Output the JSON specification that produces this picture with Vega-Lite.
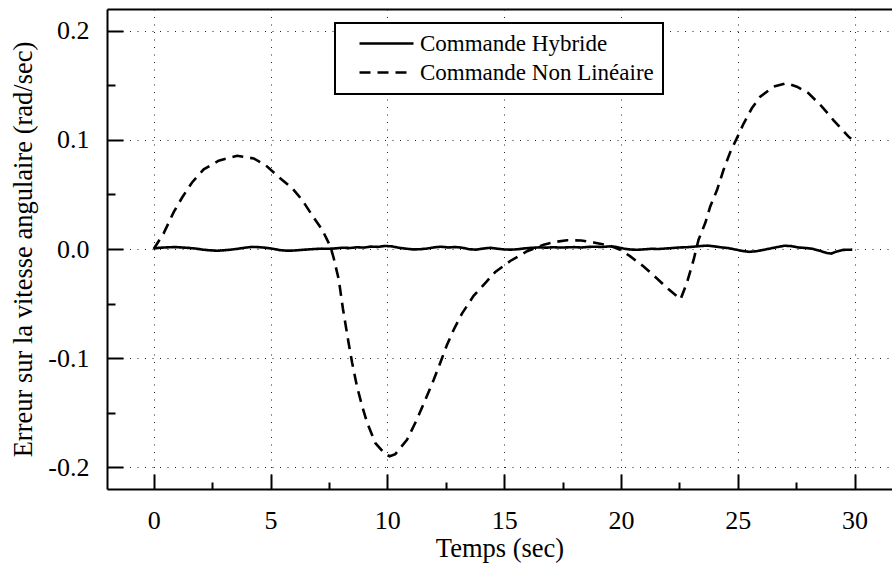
{
  "$schema": "https://vega.github.io/schema/vega-lite/v6.json",
  "width": 785,
  "height": 480,
  "autosize": {"type": "none"},
  "padding": {"left": 107, "top": 9, "right": 0, "bottom": 76},
  "background": "white",
  "config": {
    "font": "Liberation Serif",
    "view": {"stroke": null},
    "axis": {
      "domainColor": "black",
      "domainWidth": 2,
      "tickColor": "black",
      "tickWidth": 2,
      "labelColor": "black",
      "labelFont": "Liberation Serif",
      "labelFontSize": 26,
      "titleFont": "Liberation Serif",
      "titleFontSize": 26.5,
      "titleFontWeight": "normal",
      "titleColor": "black",
      "gridColor": "#222222",
      "gridDash": [1, 6.5],
      "gridWidth": 1
    }
  },
  "datasets": {
    "hybride": [
      {"t": 0, "v": 0.0005}, {"t": 0.3, "v": 0.0012}, {"t": 0.6, "v": 0.0015}, {"t": 0.9, "v": 0.0018},
      {"t": 1.2, "v": 0.0014}, {"t": 1.5, "v": 0.001}, {"t": 1.8, "v": 0.0004}, {"t": 2.1, "v": -0.0006},
      {"t": 2.4, "v": -0.0012}, {"t": 2.7, "v": -0.0016}, {"t": 3.0, "v": -0.0012}, {"t": 3.3, "v": -0.0006},
      {"t": 3.6, "v": 0.0002}, {"t": 3.9, "v": 0.0012}, {"t": 4.2, "v": 0.0019}, {"t": 4.5, "v": 0.0017},
      {"t": 4.8, "v": 0.0011}, {"t": 5.1, "v": 0.0002}, {"t": 5.4, "v": -0.001}, {"t": 5.7, "v": -0.0016},
      {"t": 6.0, "v": -0.0014}, {"t": 6.3, "v": -0.0009}, {"t": 6.6, "v": -0.0004}, {"t": 6.9, "v": 0.0},
      {"t": 7.2, "v": 0.0003}, {"t": 7.5, "v": 0.0002}, {"t": 7.8, "v": 0.0006}, {"t": 8.1, "v": 0.0012},
      {"t": 8.4, "v": 0.0009}, {"t": 8.7, "v": 0.0016}, {"t": 9.0, "v": 0.0013}, {"t": 9.3, "v": 0.0022},
      {"t": 9.6, "v": 0.0019}, {"t": 9.9, "v": 0.0028}, {"t": 10.2, "v": 0.0024}, {"t": 10.5, "v": 0.0011},
      {"t": 10.8, "v": 0.0003}, {"t": 11.1, "v": -0.0004}, {"t": 11.4, "v": -0.0002}, {"t": 11.7, "v": 0.0004},
      {"t": 12.0, "v": 0.0015}, {"t": 12.3, "v": 0.0021}, {"t": 12.6, "v": 0.0014}, {"t": 12.9, "v": 0.0018},
      {"t": 13.2, "v": 0.0012}, {"t": 13.5, "v": -0.0002}, {"t": 13.8, "v": -0.0006}, {"t": 14.1, "v": 0.0004},
      {"t": 14.4, "v": 0.0011}, {"t": 14.7, "v": 0.0003}, {"t": 15.0, "v": -0.0004}, {"t": 15.3, "v": -0.0006},
      {"t": 15.6, "v": -0.0002}, {"t": 15.9, "v": 0.0006}, {"t": 16.2, "v": 0.0011}, {"t": 16.5, "v": 0.0015},
      {"t": 16.8, "v": 0.0012}, {"t": 17.1, "v": 0.0016}, {"t": 17.4, "v": 0.0013}, {"t": 17.7, "v": 0.0015},
      {"t": 18.0, "v": 0.0017}, {"t": 18.3, "v": 0.0014}, {"t": 18.6, "v": 0.0019}, {"t": 18.9, "v": 0.0021},
      {"t": 19.2, "v": 0.0018}, {"t": 19.5, "v": 0.0024}, {"t": 19.8, "v": 0.0019}, {"t": 20.1, "v": 0.0004},
      {"t": 20.4, "v": -0.0005}, {"t": 20.7, "v": -0.0007}, {"t": 21.0, "v": -0.0003}, {"t": 21.3, "v": 0.0002},
      {"t": 21.6, "v": 0.0}, {"t": 21.9, "v": 0.0004}, {"t": 22.2, "v": 0.0009}, {"t": 22.5, "v": 0.0014},
      {"t": 22.8, "v": 0.0016}, {"t": 23.1, "v": 0.0021}, {"t": 23.4, "v": 0.0027}, {"t": 23.7, "v": 0.0031},
      {"t": 24.0, "v": 0.0024}, {"t": 24.3, "v": 0.0015}, {"t": 24.6, "v": 0.0008}, {"t": 24.9, "v": -0.0005},
      {"t": 25.2, "v": -0.0018}, {"t": 25.5, "v": -0.0026}, {"t": 25.8, "v": -0.002}, {"t": 26.1, "v": -0.0008},
      {"t": 26.4, "v": 0.0005}, {"t": 26.7, "v": 0.0018}, {"t": 27.0, "v": 0.003}, {"t": 27.3, "v": 0.0026},
      {"t": 27.6, "v": 0.0014}, {"t": 27.9, "v": 0.0009}, {"t": 28.2, "v": 0.0002}, {"t": 28.5, "v": -0.0016},
      {"t": 28.8, "v": -0.0036}, {"t": 29.0, "v": -0.0042}, {"t": 29.2, "v": -0.0025}, {"t": 29.5, "v": -0.0008},
      {"t": 29.9, "v": -0.0006}
    ],
    "nonlineaire": [
      {"t": 0, "v": 0}, {"t": 0.43, "v": 0.0146}, {"t": 0.86, "v": 0.034}, {"t": 1.21, "v": 0.047},
      {"t": 1.64, "v": 0.061}, {"t": 2.14, "v": 0.073}, {"t": 2.78, "v": 0.081}, {"t": 3.57, "v": 0.0854},
      {"t": 4.28, "v": 0.083}, {"t": 4.78, "v": 0.077}, {"t": 5.35, "v": 0.066}, {"t": 5.92, "v": 0.056},
      {"t": 6.35, "v": 0.045}, {"t": 6.78, "v": 0.031}, {"t": 7.21, "v": 0.0177}, {"t": 7.56, "v": 0.0024},
      {"t": 7.7, "v": -0.008}, {"t": 7.92, "v": -0.028}, {"t": 8.1, "v": -0.055}, {"t": 8.34, "v": -0.086},
      {"t": 8.49, "v": -0.104}, {"t": 8.7, "v": -0.126}, {"t": 8.92, "v": -0.144}, {"t": 9.13, "v": -0.159},
      {"t": 9.49, "v": -0.178}, {"t": 9.91, "v": -0.188}, {"t": 10.1, "v": -0.19}, {"t": 10.34, "v": -0.188},
      {"t": 10.84, "v": -0.175}, {"t": 11.27, "v": -0.156}, {"t": 11.63, "v": -0.138}, {"t": 11.98, "v": -0.12},
      {"t": 12.27, "v": -0.104}, {"t": 12.55, "v": -0.088}, {"t": 12.84, "v": -0.074}, {"t": 13.2, "v": -0.059},
      {"t": 13.69, "v": -0.043}, {"t": 14.2, "v": -0.031}, {"t": 14.62, "v": -0.021}, {"t": 15.26, "v": -0.011},
      {"t": 15.98, "v": -0.002}, {"t": 16.69, "v": 0.004}, {"t": 17.2, "v": 0.0065}, {"t": 17.69, "v": 0.008},
      {"t": 18.3, "v": 0.0078}, {"t": 18.83, "v": 0.006}, {"t": 19.54, "v": 0.003}, {"t": 20.0, "v": -0.001},
      {"t": 20.4, "v": -0.0068}, {"t": 20.97, "v": -0.016}, {"t": 21.54, "v": -0.027}, {"t": 22.04, "v": -0.037},
      {"t": 22.55, "v": -0.046}, {"t": 22.82, "v": -0.031}, {"t": 23.11, "v": -0.0098}, {"t": 23.32, "v": 0.0085},
      {"t": 23.61, "v": 0.024}, {"t": 23.82, "v": 0.039}, {"t": 24.11, "v": 0.054}, {"t": 24.39, "v": 0.0726},
      {"t": 24.68, "v": 0.089}, {"t": 24.96, "v": 0.1016}, {"t": 25.25, "v": 0.115}, {"t": 25.6, "v": 0.129},
      {"t": 25.96, "v": 0.1397}, {"t": 26.53, "v": 0.1488}, {"t": 27.1, "v": 0.152}, {"t": 27.53, "v": 0.1488},
      {"t": 28.03, "v": 0.1428}, {"t": 28.6, "v": 0.1305}, {"t": 29.1, "v": 0.118}, {"t": 29.74, "v": 0.103},
      {"t": 29.85, "v": 0.101}
    ]
  },
  "layer": [
    {
      "data": {"name": "hybride"},
      "transform": [{"calculate": "'Commande Hybride'", "as": "serie"}],
      "mark": {"type": "line", "color": "black", "strokeWidth": 2.6, "strokeCap": "butt"},
      "encoding": {
        "x": {
          "field": "t", "type": "quantitative",
          "scale": {"domain": [-2, 31.6], "nice": false, "zero": false},
          "axis": {
            "title": "Temps (sec)",
            "values": [0, 2.5, 5, 7.5, 10, 12.5, 15, 17.5, 20, 22.5, 25, 27.5, 30],
            "labelExpr": "datum.value % 5 === 0 ? format(datum.value, 'd') : ''",
            "tickSize": {"condition": {"test": "datum.value % 5 === 0", "value": -15}, "value": -7},
            "labelPadding": 33,
            "labelFlush": false,
            "titlePadding": 2,
            "grid": true,
            "gridOpacity": {"condition": {"test": "datum.value % 5 === 0", "value": 1}, "value": 0}
          }
        },
        "y": {
          "field": "v", "type": "quantitative",
          "scale": {"domain": [-0.22, 0.22], "nice": false, "zero": false},
          "axis": {
            "title": "Erreur sur la vitesse angulaire (rad/sec)",
            "values": [-0.2, -0.15, -0.1, -0.05, 0, 0.05, 0.1, 0.15, 0.2],
            "labelExpr": "round(datum.value * 20) % 2 === 0 ? replace(format(datum.value, '.1f'), '\u2212', '-') : ''",
            "tickSize": {"condition": {"test": "round(datum.value * 20) % 2 === 0", "value": -16}, "value": -8},
            "labelPadding": 34,
            "labelFlush": false,
            "titlePadding": 10,
            "grid": true,
            "gridOpacity": {"condition": {"test": "round(datum.value * 20) % 2 === 0", "value": 1}, "value": 0}
          }
        },
        "strokeDash": {
          "field": "serie", "type": "nominal",
          "scale": {"domain": ["Commande Hybride", "Commande Non Linéaire"], "range": [[1, 0], [11, 7]]},
          "legend": {
            "title": null,
            "orient": "none",
            "legendX": 228,
            "legendY": 14,
            "fillColor": "white",
            "strokeColor": "black",
            "padding": 9,
            "symbolType": "M-2.7,0H2.7",
            "symbolSize": 400,
            "symbolStrokeWidth": 2.6,
            "symbolStrokeColor": "black",
            "symbolFillColor": "transparent",
            "symbolOffset": 31,
            "labelFont": "Liberation Serif",
            "labelFontSize": 23,
            "labelColor": "black",
            "labelOffset": 22,
            "labelLimit": 400,
            "rowPadding": 5,
            "encode": {"legend": {"update": {"strokeWidth": {"value": 2}}}}
          }
        }
      }
    },
    {
      "data": {"name": "nonlineaire"},
      "transform": [{"calculate": "'Commande Non Linéaire'", "as": "serie"}],
      "mark": {"type": "line", "color": "black", "strokeWidth": 2.6, "strokeCap": "butt"},
      "encoding": {
        "x": {"field": "t", "type": "quantitative", "axis": null},
        "y": {"field": "v", "type": "quantitative"},
        "strokeDash": {"field": "serie", "type": "nominal"}
      }
    },
    {
      "data": {"name": "hybride"},
      "mark": {"type": "rule", "opacity": 0},
      "encoding": {
        "x": {
          "field": "t", "type": "quantitative",
          "axis": {"orient": "top", "title": null, "labels": false, "ticks": false, "grid": false, "domain": true}
        }
      }
    }
  ],
  "resolve": {"axis": {"x": "independent"}}
}
